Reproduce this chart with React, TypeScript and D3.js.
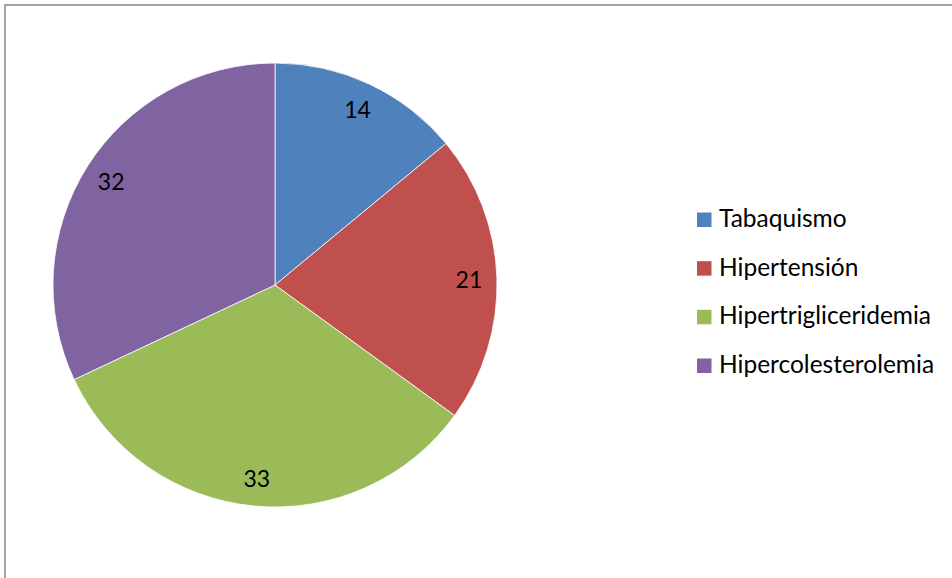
import React from "react";
import * as d3 from "d3";

const categories = ["Tabaquismo", "Hipertensión", "Hipertrigliceridemia", "Hipercolesterolemia"];
const values = [14, 21, 33, 32];
const colors = ["#4F81BD", "#C0504D", "#9BBB59", "#8064A2"];

const W = 952;
const H = 578;
const cx = 275;
const cy = 285;
const R = 222;
const labelR = 194;
const FONT = "Lato, 'Liberation Sans', sans-serif";

export default function App() {
  const pie = d3.pie<number>().sort(null).value((d) => d)(values);
  const arc = d3.arc<d3.PieArcDatum<number>>().innerRadius(0).outerRadius(R);
  const labelArc = d3.arc<d3.PieArcDatum<number>>().innerRadius(labelR).outerRadius(labelR);
  const legendY = d3.scalePoint<string>().domain(categories).range([227, 373]);

  return (
    <svg width={W} height={H} style={{ position: "absolute", left: 0, top: 0 }}>
      <rect x={0} y={0} width={W} height={H} fill="#fff" />
      <rect x={5} y={5} width={W + 10} height={H + 10} fill="none" stroke="#868686" strokeWidth={1.5} />
      <g transform={`translate(${cx},${cy})`}>
        {pie.map((d, i) => (
          <path key={i} d={arc(d) || ""} fill={colors[i]} stroke="#fff" strokeWidth={0.8} />
        ))}
        {pie.map((d, i) => {
          const [x, y] = labelArc.centroid(d);
          return (
            <text key={i} x={x} y={y} textAnchor="middle" dominantBaseline="central" fontFamily={FONT} fontSize={23} fill="#000">
              {values[i]}
            </text>
          );
        })}
      </g>
      <g>
        {categories.map((c, i) => {
          const y = legendY(c) as number;
          return (
            <g key={c}>
              <rect x={697} y={y - 14.5} width={14.5} height={14.5} fill={colors[i]} />
              <text x={719} y={y} fontFamily={FONT} fontSize={24.5} fill="#000">
                {c}
              </text>
            </g>
          );
        })}
      </g>
    </svg>
  );
}
